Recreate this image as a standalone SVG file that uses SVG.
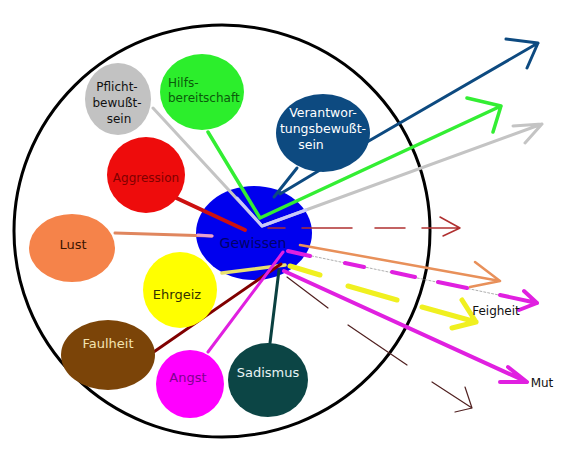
<svg xmlns="http://www.w3.org/2000/svg" width="566" height="451" viewBox="0 0 566 451">
<style>
text{font-family:"DejaVu Sans","Liberation Sans",sans-serif;font-size:12px;text-anchor:middle}
.c{fill:none;stroke-linecap:round;stroke-linejoin:round}
</style>
<rect width="566" height="451" fill="#fff"/>
<ellipse cx="222" cy="231" rx="208" ry="206" fill="none" stroke="#000" stroke-width="3"/>
<g id="gewissen">
<ellipse cx="254" cy="233" rx="58" ry="47" fill="#0000ee"/>
<text x="253" y="248" fill="#00006a" style="font-size:14px">Gewissen</text>
</g>
<g id="connectors">
<path class="c" d="M153,108 L262,226 L542,124 M513,126 L542,124 L525,143" stroke="#c4c4c4" stroke-width="3"/>
<path class="c" d="M237,198 L262,226 L306,210" stroke="#c8c8fa" stroke-width="3"/>
<path class="c" d="M208,132 L260,218 L501,106 M467,98 L501,106 L493,132" stroke="#33ee33" stroke-width="3.5"/>
<path class="c" d="M367,142 L538,43 M506,39 L538,43 L527,68" stroke="#0d4a80" stroke-width="3"/>
<path class="c" d="M297,168 L274,197 M320,170 L280,194" stroke="#0d4a80" stroke-width="3"/>
<path class="c" d="M172,196 L245,230" stroke="#cc1010" stroke-width="4"/>
<path class="c" d="M115,233 L212,236" stroke="#e0865e" stroke-width="3"/>
<path class="c" d="M198,235 L212,236" stroke="#e8a0d0" stroke-width="3"/>
<path class="c" d="M268,228 L285,228 M302,228 L352,228 M375,228 L405,228 M422,228 L460,228 M440,217 L460,228 L443,236" stroke="#b03030" stroke-width="1.5"/>
<path class="c" d="M300,245 L500,281 M475,262 L500,281 L470,287" stroke="#e8905a" stroke-width="2.5"/>
<path class="c" d="M288,251 L537,303" stroke="#999" stroke-width="0.8" stroke-dasharray="2 2"/>
<path class="c" d="M288,251 L310,256 M345,263 L364,267 M392,272 L415,277 M438,282 L467,288 M500,295 L537,303 M524,291 L537,303 L519,310" stroke="#e020e0" stroke-width="4"/>
<path class="c" d="M222,273 L285,265" stroke="#e8e070" stroke-width="3.5"/>
<path class="c" d="M290,266 L320,275 M348,286 L397,300 M422,307 L476,322 M462,300 L476,322 L452,328" stroke="#f0f020" stroke-width="5"/>
<path class="c" d="M284,271 L527,382 M508,367 L527,382 L500,382" stroke="#e020e0" stroke-width="4"/>
<path class="c" d="M287,277 L328,308 M348,325 L407,365 M432,382 L472,408 M455,412 L472,408 L465,387" stroke="#502020" stroke-width="1.2"/>
<path class="c" d="M145,358 L281,264" stroke="#800000" stroke-width="3"/>
<path class="c" d="M208,352 L283,252" stroke="#e020e0" stroke-width="3"/>
<path class="c" d="M270,343 L279,270" stroke="#0a4040" stroke-width="3"/>
</g>
<g id="pflicht">
<ellipse cx="118" cy="99" rx="33" ry="36" fill="#c2c2c2"/>
<text x="117" y="91" fill="#111">Pflicht-</text>
<text x="117" y="107" fill="#111">bewußt-</text>
<text x="119" y="123" fill="#111">sein</text>
</g>
<g id="hilfs">
<ellipse cx="202" cy="92" rx="42" ry="38" fill="#2cee2c"/>
<text x="168" y="87" fill="#0b5a0b" style="text-anchor:start">Hilfs-</text>
<text x="168" y="102" fill="#0b5a0b" style="text-anchor:start">bereitschaft</text>
</g>
<g id="verantwortung">
<ellipse cx="323" cy="133" rx="47" ry="39" fill="#0d4a80"/>
<text x="323" y="117" fill="#fff" style="font-size:12.5px">Verantwor-</text>
<text x="323" y="133" fill="#fff" style="font-size:12.5px">tungsbewußt-</text>
<text x="311" y="149" fill="#fff" style="font-size:12.5px">sein</text>
</g>
<g id="aggression">
<ellipse cx="146" cy="175" rx="39" ry="38" fill="#ee0c0c"/>
<text x="146" y="182" fill="#800000">Aggression</text>
</g>
<g id="lust">
<ellipse cx="72" cy="248" rx="43" ry="34" fill="#f5834a"/>
<text x="73" y="249" fill="#3a1500" style="font-size:13px">Lust</text>
</g>
<g id="ehrgeiz">
<ellipse cx="180" cy="290" rx="37" ry="38" fill="#ffff00"/>
<text x="177" y="299" fill="#333300" style="font-size:13px">Ehrgeiz</text>
</g>
<g id="faulheit">
<ellipse cx="108" cy="355" rx="47" ry="35" fill="#7b4408"/>
<text x="108" y="348" fill="#f3e3b0" style="font-size:13px">Faulheit</text>
</g>
<g id="angst">
<ellipse cx="190" cy="384" rx="34" ry="34" fill="#ff00ff"/>
<text x="188" y="382" fill="#800090" style="font-size:13px">Angst</text>
</g>
<g id="sadismus">
<ellipse cx="268" cy="380" rx="40" ry="37" fill="#0c4545"/>
<text x="268" y="377" fill="#e8f4f4" style="font-size:13px">Sadismus</text>
</g>
<g id="feigheit">
<text x="496" y="315" fill="#111">Feigheit</text>
</g>
<g id="mut">
<text x="542" y="387" fill="#111">Mut</text>
</g>
</svg>
